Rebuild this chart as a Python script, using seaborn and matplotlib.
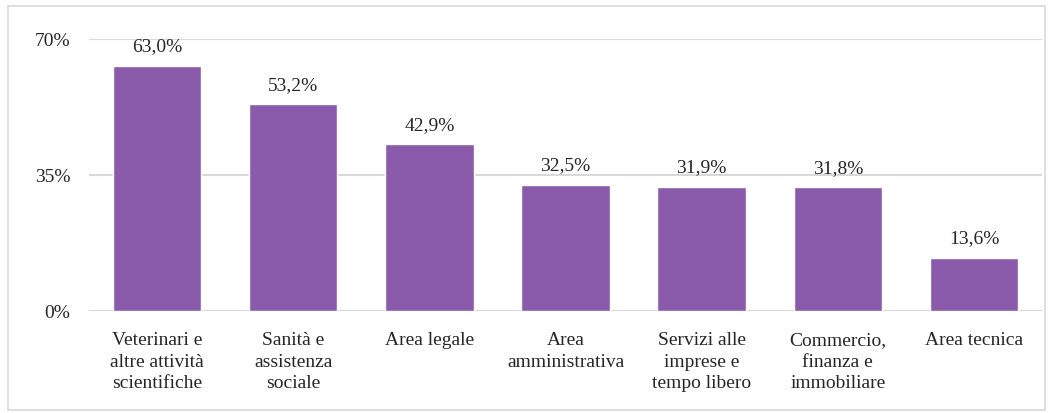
import pandas as pd
import matplotlib.pyplot as plt
import seaborn as sns
from matplotlib.patches import Rectangle

# dati
categorie = ['Veterinari e\naltre attività\nscientifiche', 'Sanità e\nassistenza\nsociale',
             'Area legale', 'Area\namministrativa', 'Servizi alle\nimprese e\ntempo libero',
             'Commercio,\nfinanza e\nimmobiliare', 'Area tecnica']
valori = [63.0, 53.2, 42.9, 32.5, 31.9, 31.8, 13.6]
etichette = ['63,0%', '53,2%', '42,9%', '32,5%', '31,9%', '31,8%', '13,6%']
tick_y = [0, 35, 70]

df = pd.DataFrame({'categoria': categorie, 'valore': valori})

sns.set_style('white')
plt.rcParams['font.family'] = ['Liberation Serif', 'DejaVu Serif']

fig = plt.figure(figsize=(10.52, 4.14), dpi=100)
ax = fig.add_axes([0.0846, 0.2464, 0.906, 0.657])

sns.barplot(data=df, x='categoria', y='valore', color='#895BAA', saturation=1,
            width=0.65, ax=ax)

ax.set_ylim(0, 70)
ax.set_xlim(-0.5, len(categorie) - 0.5)
ax.set_yticks(tick_y)
ax.set_yticklabels([f'{t}%' for t in tick_y])
ax.yaxis.grid(True, color='#D9D9D9', linewidth=1.5)
ax.set_axisbelow(True)
for s in ax.spines.values():
    s.set_visible(False)
ax.tick_params(axis='both', length=0, labelsize=14, colors='#262626')
ax.tick_params(axis='y', pad=13.5)
ax.tick_params(axis='x', pad=14.5)
for lab in ax.get_xticklabels():
    lab.set_linespacing(1.35)
ax.set_xlabel('')
ax.set_ylabel('')

for i, (v, t) in enumerate(zip(valori, etichette)):
    ax.text(i, v + 3.0, t, ha='center', va='bottom', fontsize=14, color='#262626')

fig.add_artist(Rectangle((8 / 1052, 3 / 414), 1037 / 1052, 404 / 414, transform=fig.transFigure,
                         fill=False, edgecolor='#D9D9D9', linewidth=1.2))

fig.savefig('out.png', dpi=100)
